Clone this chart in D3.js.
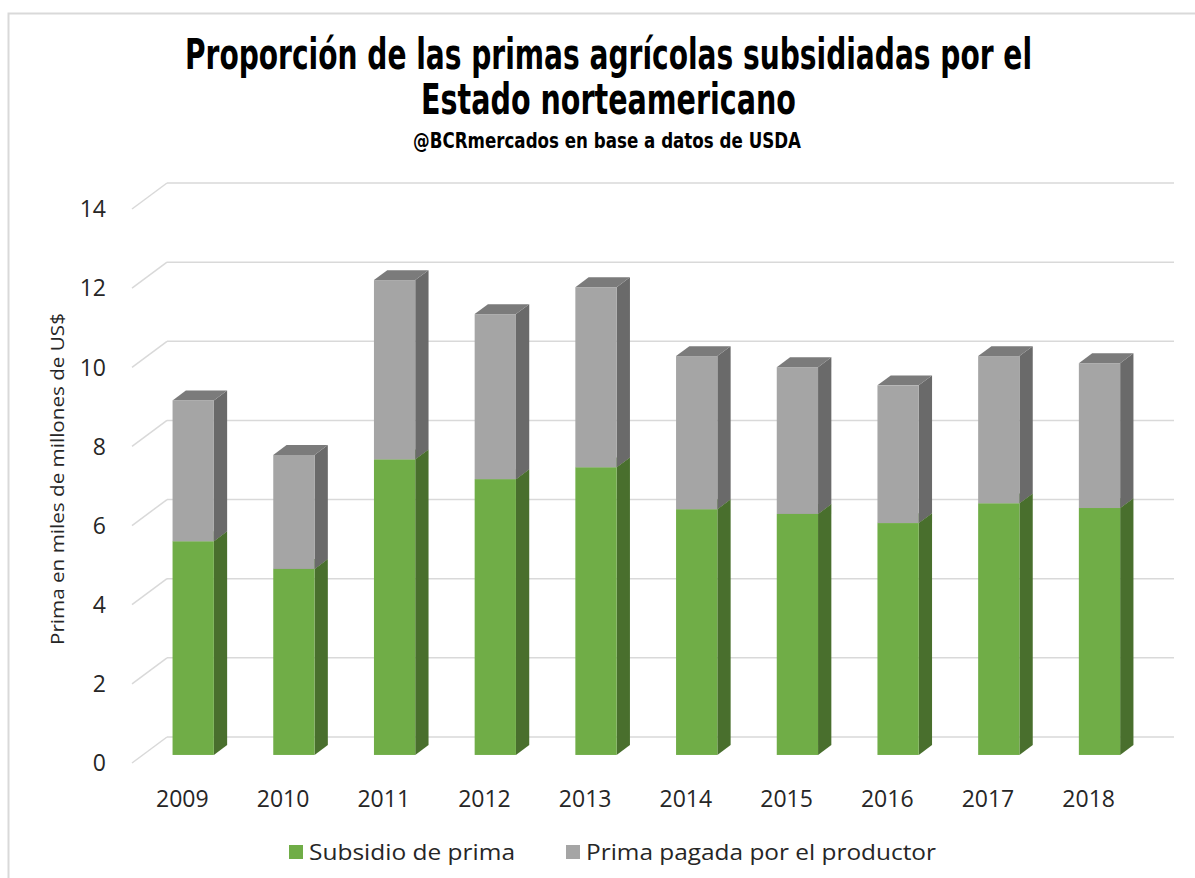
<!DOCTYPE html>
<html>
<head>
<meta charset="utf-8">
<script src="https://cdn.jsdelivr.net/npm/d3@7"></script>
<style>
  body { margin: 0; background: #fff; }
  svg text { fill: #262626; }
</style>
</head>
<body>
<div id="chart"></div>
<script>
// data (miles de millones de US$)
const years = ['2009', '2010', '2011', '2012', '2013', '2014', '2015', '2016', '2017', '2018'];
const subsidio = [5.40, 4.70, 7.47, 6.97, 7.27, 6.21, 6.09, 5.86, 6.36, 6.24];
const productor = [3.56, 2.88, 4.53, 4.17, 4.55, 3.87, 3.71, 3.48, 3.72, 3.66];
const yTicks = [0, 2, 4, 6, 8, 10, 12, 14];
const seriesNames = ['Subsidio de prima', 'Prima pagada por el productor'];

const W = 1195, H = 878;

// oblique 3d: depth d goes 0 (back wall) .. 1 (front edge of floor)
const DEPTH = {dx: -35, dy: 26};
const BAR_FRONT = 0.69, BAR_BACK = 0.31;
const COLORS = {
  green: {front: '#70ad47', side: '#496f2d', top: '#5b8a3a'},
  gray: {front: '#a5a5a5', side: '#6a6a6a', top: '#7b7b7b'}
};

const svg = d3.select('#chart').append('svg')
  .attr('width', W).attr('height', H);

// outer frame (only left and top edges are inside the picture)
svg.append('path')
  .attr('d', `M8.5,${H}V13.5H${W}`)
  .attr('fill', 'none').attr('stroke', '#d9d9d9').attr('stroke-width', 2);

const xScale = d3.scaleBand()
  .domain(years)
  .range([167, 1174])
  .paddingInner(0.59)
  .paddingOuter(0.295);

const yScale = d3.scaleLinear()
  .domain([0, 14])
  .range([737, 183]);

const px = (x, d) => x + DEPTH.dx * d;
const py = (v, d) => yScale(v) + DEPTH.dy * d;

// gridlines: back wall + left wall diagonals
const grid = svg.append('g').attr('stroke', '#d9d9d9').attr('stroke-width', 1.5).attr('fill', 'none');
yTicks.forEach(t => {
  grid.append('line')
    .attr('x1', xScale.range()[0]).attr('x2', xScale.range()[1])
    .attr('y1', yScale(t)).attr('y2', yScale(t));
  grid.append('line')
    .attr('x1', px(xScale.range()[0], 1)).attr('y1', py(t, 1))
    .attr('x2', px(xScale.range()[0], 0)).attr('y2', py(t, 0));
});

// y tick labels at floor front edge
svg.append('g').selectAll('text')
  .data(yTicks).join('text')
  .attr('x', 106)
  .attr('y', d => py(d, 1))
  .attr('dy', '0.36em')
  .attr('text-anchor', 'end')
  .style('font-family', '"Open Sans", sans-serif')
  .style('font-size', '23px')
  .text(d => d);

// stacked bars
const rows = years.map((y, i) => ({year: y, subsidio: subsidio[i], productor: productor[i]}));
const stack = d3.stack().keys(['subsidio', 'productor'])(rows);
const palette = [COLORS.green, COLORS.gray];

const bars = svg.append('g');
years.forEach((yr, i) => {
  stack.forEach((layer, k) => {
    const seg = layer[i];
    const c = palette[k];
    const x0 = xScale(yr), x1 = xScale(yr) + xScale.bandwidth();
    const v0 = seg[0], v1 = seg[1];
    const g = bars.append('g');
    // side (right) face
    g.append('path')
      .attr('d', d3.line()([
        [px(x1, BAR_FRONT), py(v0, BAR_FRONT)],
        [px(x1, BAR_BACK), py(v0, BAR_BACK)],
        [px(x1, BAR_BACK), py(v1, BAR_BACK)],
        [px(x1, BAR_FRONT), py(v1, BAR_FRONT)]
      ]) + 'Z')
      .attr('fill', c.side);
    // top face
    g.append('path')
      .attr('d', d3.line()([
        [px(x0, BAR_FRONT), py(v1, BAR_FRONT)],
        [px(x0, BAR_BACK), py(v1, BAR_BACK)],
        [px(x1, BAR_BACK), py(v1, BAR_BACK)],
        [px(x1, BAR_FRONT), py(v1, BAR_FRONT)]
      ]) + 'Z')
      .attr('fill', c.top);
    // front face
    g.append('rect')
      .attr('x', px(x0, BAR_FRONT))
      .attr('y', py(v1, BAR_FRONT))
      .attr('width', xScale.bandwidth())
      .attr('height', py(v0, BAR_FRONT) - py(v1, BAR_FRONT))
      .attr('fill', c.front);
  });
});

// x labels at floor front edge
svg.append('g').selectAll('text')
  .data(years).join('text')
  .attr('x', d => px(xScale(d) + xScale.bandwidth() / 2, 1))
  .attr('y', 807)
  .attr('text-anchor', 'middle')
  .style('font-family', '"Open Sans", sans-serif')
  .style('font-size', '23px')
  .text(d => d);

// y axis title
svg.append('text')
  .attr('transform', 'translate(64, 479) rotate(-90)')
  .attr('text-anchor', 'middle')
  .style('font-family', '"Open Sans", sans-serif')
  .style('font-size', '18px')
  .attr('textLength', 332)
  .attr('lengthAdjust', 'spacingAndGlyphs')
  .text('Prima en miles de millones de US$');

// titles: condensed bold, stretched a little vertically
const titleFont = '"DejaVu Sans Condensed", "DejaVu Sans", sans-serif';
function titleLine(txt, x, y, len, size, sy) {
  svg.append('text')
    .attr('transform', `translate(${x},${y}) scale(1,${sy})`)
    .attr('textLength', len).attr('lengthAdjust', 'spacingAndGlyphs')
    .style('font-family', titleFont).style('font-weight', 'bold')
    .style('font-size', size + 'px')
    .style('fill', '#000')
    .text(txt);
}
titleLine('Proporción de las primas agrícolas subsidiadas por el', 185, 69, 847, 35, 1.2);
titleLine('Estado norteamericano', 421, 114, 375, 35, 1.2);
titleLine('@BCRmercados en base a datos de USDA', 413, 148, 388, 17, 1.2);

// legend
const legendItems = [
  {name: seriesNames[0], color: COLORS.green.front, x: 289, tl: 206},
  {name: seriesNames[1], color: COLORS.gray.front, x: 566, tl: 350}
];
const legend = svg.append('g');
legendItems.forEach(it => {
  legend.append('rect')
    .attr('x', it.x).attr('y', 845)
    .attr('width', 14).attr('height', 14)
    .attr('fill', it.color);
  legend.append('text')
    .attr('x', it.x + 20).attr('y', 860)
    .attr('textLength', it.tl).attr('lengthAdjust', 'spacingAndGlyphs')
    .style('font-family', '"Open Sans", sans-serif')
    .style('font-size', '22px')
    .text(it.name);
});
</script>
</body>
</html>
